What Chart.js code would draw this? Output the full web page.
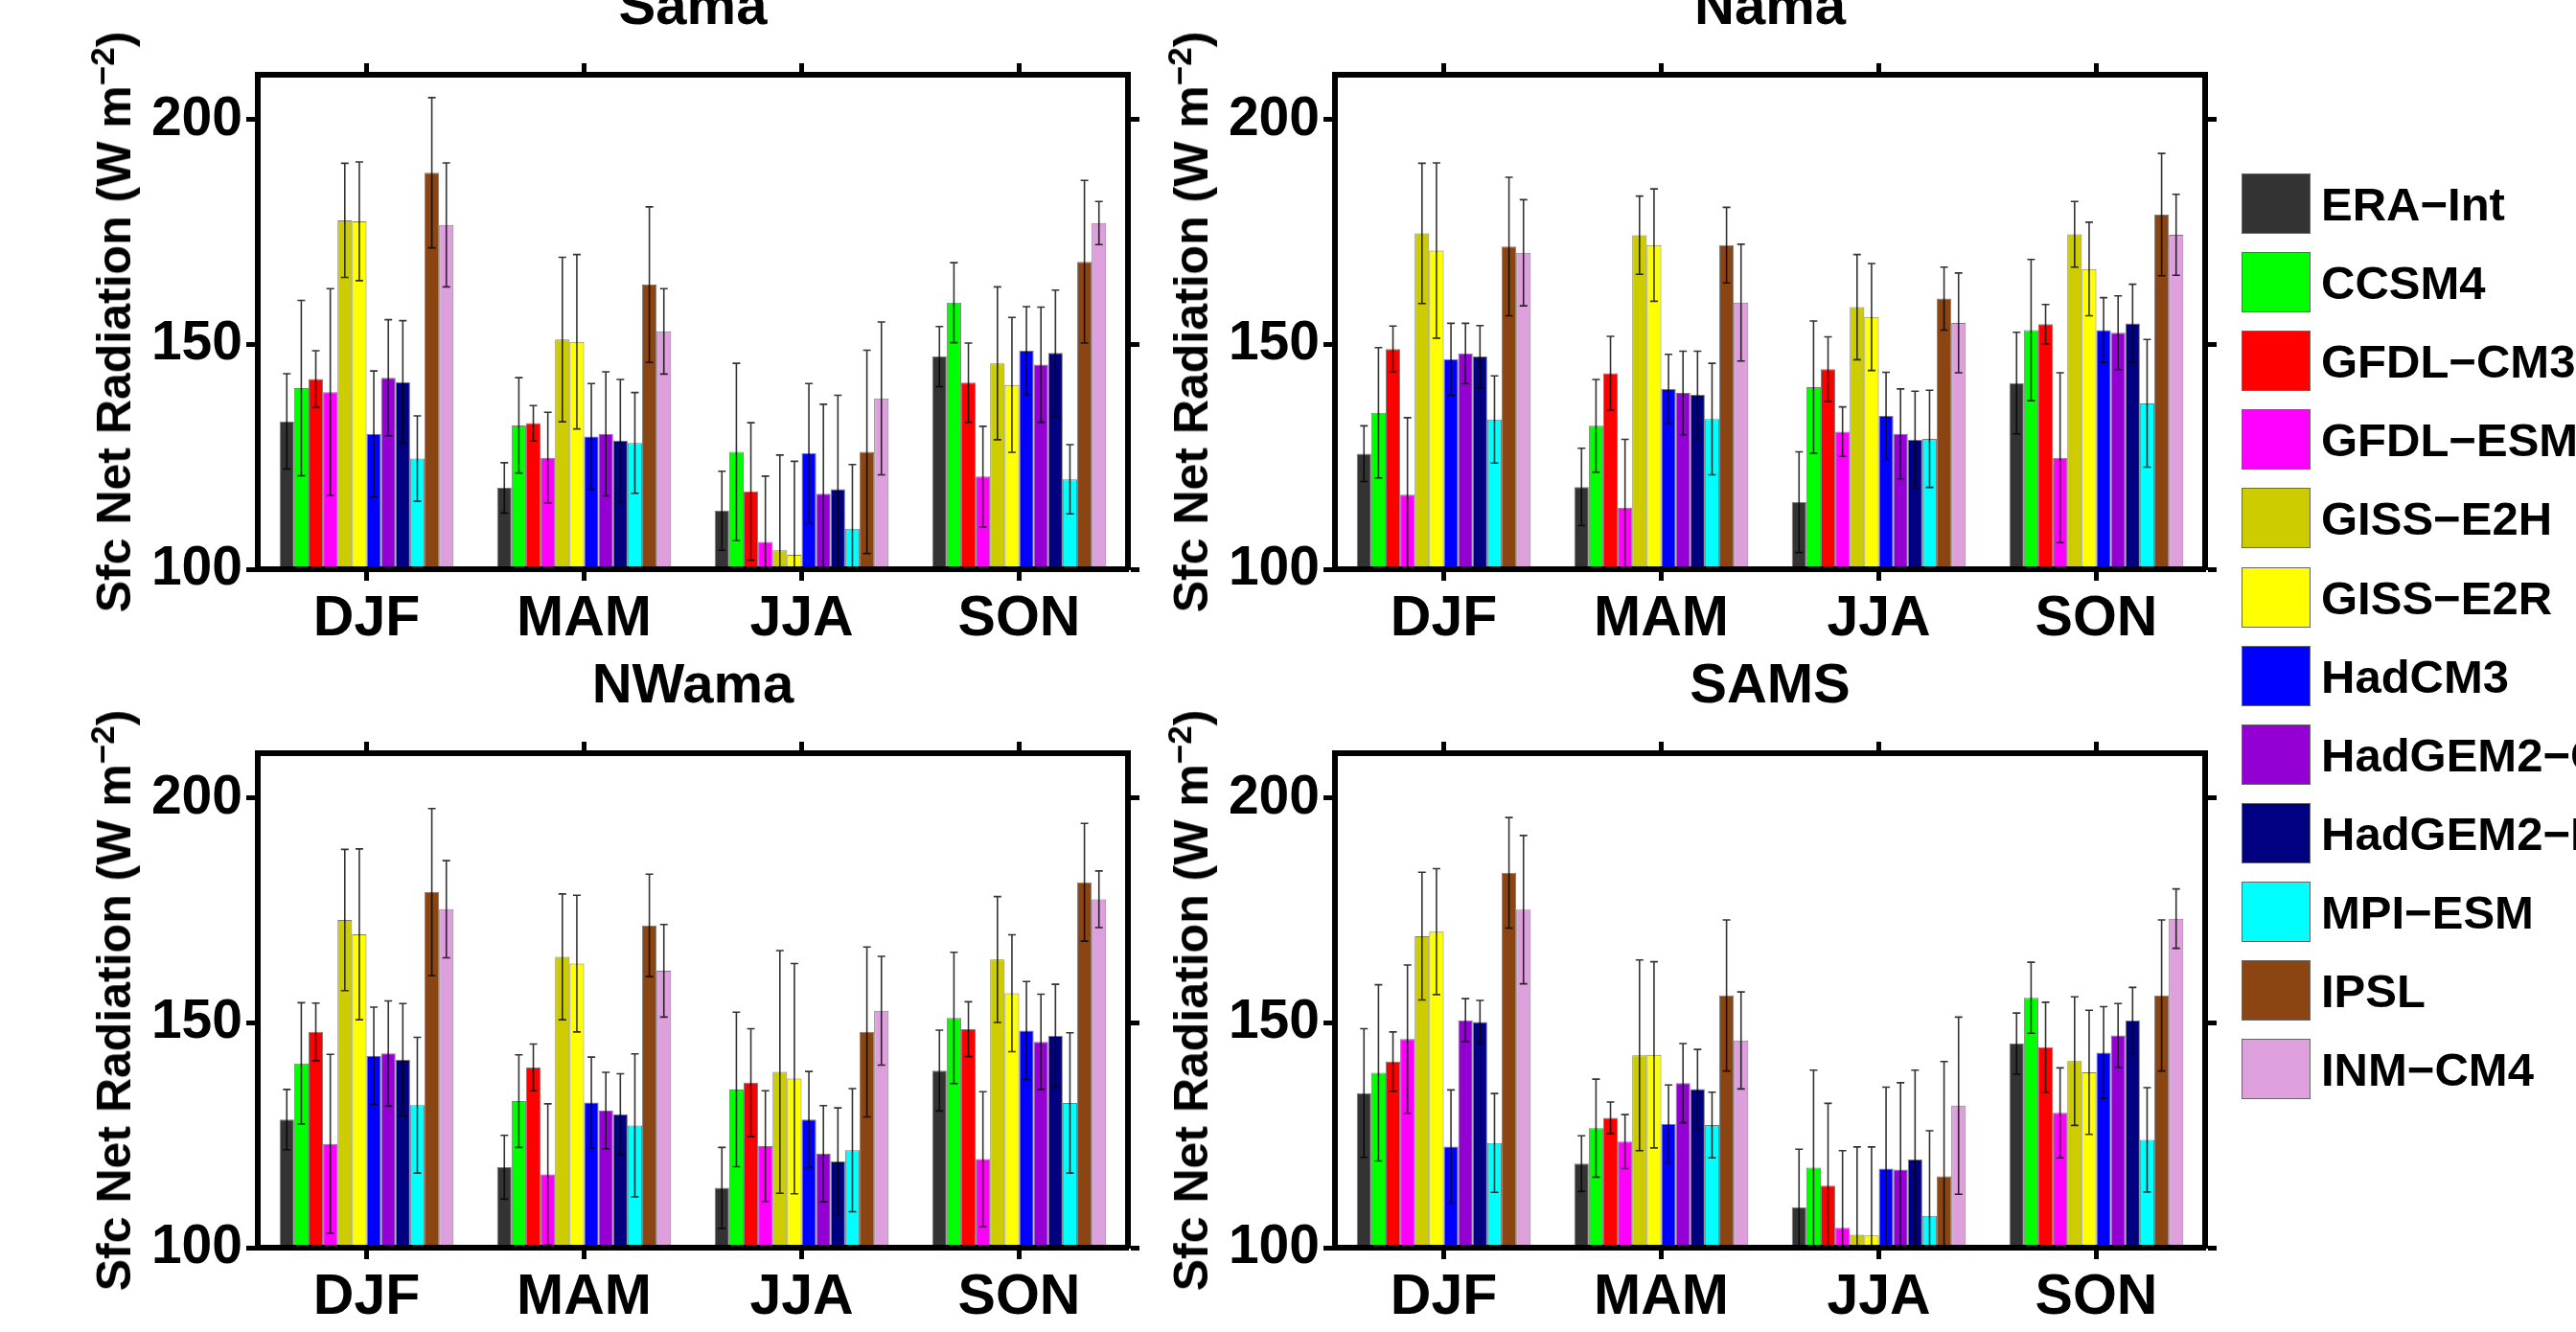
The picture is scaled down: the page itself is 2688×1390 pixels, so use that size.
<!DOCTYPE html>
<html lang="en">
<head>
<meta charset="utf-8">
<script src="https://cdn.jsdelivr.net/npm/chart.js@4.4.1/dist/chart.umd.min.js"></script>
<title>Sfc Net Radiation</title>
<style>
  html, body { margin: 0; padding: 0; background: #fff; }
  #page { position: relative; width: 2688px; height: 1390px; overflow: hidden;
          font-family: 'Liberation Sans', Arial, sans-serif; color: #000; }
  canvas { position: absolute; }
  .ylab { position: absolute; font-weight: bold; font-size: 50px; line-height: 1;
          white-space: nowrap; transform: translate(-50%, -50%) rotate(-90deg); }
  .ylab span { position: relative; top: -0.5em; font-size: 0.7em; }
  .patch { position: absolute; width: 72px; height: 63px; box-sizing: border-box;
           border: 1px solid #666; }
  .name { position: absolute; font-weight: bold; font-size: 49px; line-height: 1;
          white-space: nowrap; transform: translateY(-50%); }
</style>
</head>
<body>
<div id="page"></div>
<script>
// seasons and models
const seasons = ['DJF', 'MAM', 'JJA', 'SON'];
const models = ['ERA\u2212Int', 'CCSM4', 'GFDL\u2212CM3', 'GFDL\u2212ESM2M', 'GISS\u2212E2H', 'GISS\u2212E2R',
                'HadCM3', 'HadGEM2\u2212CC', 'HadGEM2\u2212ES', 'MPI\u2212ESM', 'IPSL', 'INM\u2212CM4'];
const colors = ['#333333', '#00ff00', '#ff0000', '#ff00ff', '#cccc00', '#ffff00',
                '#0000ff', '#9400d3', '#000080', '#00ffff', '#8b4513', '#dda0dd'];
const yTicks = [100, 150, 200];

// mean values, one row per model (DJF, MAM, JJA, SON)
const samaMean = [
  [132.9, 118.1, 113.0, 147.3], [140.3, 132.0, 126.1, 159.3], [142.3, 132.5, 117.3, 141.5],
  [139.4, 124.8, 106.1, 120.6], [177.6, 151.1, 104.2, 145.8], [177.4, 150.6, 103.2, 141.0],
  [130.1, 129.5, 125.8, 148.6], [142.6, 130.1, 116.8, 145.5], [141.6, 128.6, 117.8, 148.1],
  [124.6, 128.1, 109.0, 120.0], [188.2, 163.3, 126.1, 168.4], [176.6, 152.9, 138.0, 177.0]
];
const samaErr = [
  [10.6, 5.6, 8.8, 6.7], [19.5, 10.6, 19.7, 8.9], [6.3, 3.9, 15.3, 8.8],
  [23.0, 10.1, 14.6, 11.2], [12.7, 18.3, 21.2, 17.0], [13.2, 19.4, 20.8, 15.0],
  [14.0, 11.8, 15.5, 9.8], [12.9, 13.8, 19.9, 12.8], [13.7, 13.6, 20.9, 14.0],
  [9.5, 11.2, 14.3, 7.7], [16.7, 17.3, 22.6, 18.1], [13.8, 9.5, 17.0, 4.8]
];
const namaMean = [
  [125.7, 118.3, 114.9, 141.4], [134.8, 131.9, 140.5, 153.2], [149.0, 143.6, 144.5, 154.5],
  [116.6, 113.7, 130.6, 124.8], [174.7, 174.3, 158.3, 174.5], [170.9, 172.1, 156.1, 166.8],
  [146.7, 140.1, 134.1, 153.2], [148.0, 139.2, 130.1, 152.6], [147.3, 138.8, 128.8, 154.7],
  [133.3, 133.4, 129.0, 136.9], [171.8, 172.1, 160.2, 178.9], [170.4, 159.3, 154.8, 174.4]
];
const namaErr = [
  [6.2, 8.6, 11.2, 11.3], [14.5, 10.3, 14.7, 15.7], [5.1, 8.2, 7.2, 4.4],
  [17.1, 15.2, 5.5, 18.9], [15.6, 8.7, 11.7, 7.3], [19.5, 12.5, 11.9, 10.4],
  [8.0, 7.7, 9.7, 7.2], [6.7, 9.3, 10.0, 8.2], [6.9, 9.7, 10.8, 8.7],
  [9.7, 12.4, 10.8, 14.2], [15.4, 8.4, 7.0, 13.6], [11.8, 13.0, 11.1, 9.0]
];
const nwamaMean = [
  [128.5, 117.9, 113.3, 139.4], [141.0, 132.6, 135.2, 151.1], [148.0, 140.1, 136.7, 148.6],
  [123.1, 116.3, 122.6, 119.7], [172.9, 164.7, 139.1, 164.1], [169.7, 163.2, 137.6, 156.6],
  [142.7, 132.3, 128.5, 148.3], [143.2, 130.5, 120.9, 145.8], [141.8, 129.7, 119.2, 147.1],
  [131.7, 127.2, 121.7, 132.2], [179.1, 171.7, 148.0, 181.3], [175.3, 161.6, 152.7, 177.5]
];
const nwamaErr = [
  [6.7, 7.1, 9.0, 9.0], [13.5, 10.3, 17.2, 14.6], [6.4, 5.2, 12.0, 6.1],
  [19.9, 15.7, 12.3, 15.0], [15.7, 14.0, 27.0, 14.0], [19.0, 15.2, 25.6, 13.0],
  [10.8, 10.1, 10.7, 10.9], [11.7, 8.5, 10.7, 10.6], [12.5, 9.0, 11.9, 11.5],
  [15.1, 15.9, 13.7, 15.6], [18.6, 11.4, 18.9, 13.1], [10.8, 10.3, 12.1, 6.3]
];
const samsMean = [
  [134.4, 118.7, 109.0, 145.4], [138.9, 126.6, 117.8, 155.6], [141.4, 128.9, 113.8, 144.6],
  [146.4, 123.6, 104.4, 130.0], [169.3, 142.8, 102.9, 141.5], [170.3, 142.9, 102.7, 139.0],
  [122.5, 127.5, 117.6, 143.4], [150.6, 136.6, 117.4, 147.2], [150.2, 135.3, 119.6, 150.5],
  [123.3, 127.3, 107.1, 124.0], [183.4, 156.1, 115.9, 156.1], [175.2, 146.1, 131.6, 173.2]
];
const samsErr = [
  [14.3, 6.2, 12.9, 6.8], [19.6, 10.9, 21.7, 7.9], [6.6, 3.5, 18.3, 10.0],
  [16.5, 6.0, 17.2, 10.0], [14.2, 21.2, 19.5, 14.3], [14.0, 20.7, 19.7, 13.8],
  [12.6, 8.7, 18.1, 10.2], [4.8, 8.8, 19.3, 7.1], [4.8, 8.8, 19.9, 7.4],
  [11.0, 7.3, 18.9, 11.6], [12.3, 16.8, 25.5, 16.8], [16.5, 10.8, 19.7, 6.6]
];

const FONT = "'Liberation Sans', Arial, sans-serif";
Chart.defaults.font.family = FONT;
Chart.defaults.color = '#000';

// draws mean +/- err whiskers on each bar
const errorBars = {
  id: 'errorBars',
  afterDatasetsDraw(chart) {
    const { ctx, chartArea: a } = chart;
    const y = chart.scales.y;
    ctx.save();
    ctx.beginPath();
    ctx.rect(a.left, a.top, a.right - a.left, a.bottom - a.top);
    ctx.clip();
    ctx.strokeStyle = 'rgba(0,0,0,0.8)';
    ctx.lineWidth = 1.6;
    chart.data.datasets.forEach((ds, i) => {
      chart.getDatasetMeta(i).data.forEach((bar, j) => {
        const hi = y.getPixelForValue(ds.data[j] + ds.errs[j]);
        const lo = y.getPixelForValue(ds.data[j] - ds.errs[j]);
        ctx.beginPath();
        ctx.moveTo(bar.x, hi); ctx.lineTo(bar.x, lo);
        ctx.moveTo(bar.x - 4, hi); ctx.lineTo(bar.x + 4, hi);
        ctx.moveTo(bar.x - 4, lo); ctx.lineTo(bar.x + 4, lo);
        ctx.stroke();
      });
    });
    ctx.restore();
  }
};

const page = document.getElementById('page');
const PAD_L = 260, PAD_R = 60, PAD_T = 140, PAD_B = 100;

function axisGrid() {
  return { display: true, drawOnChartArea: false, drawTicks: true, offset: false,
           tickLength: 12, tickWidth: 5, tickColor: '#000' };
}
function axisBorder() {
  return { display: true, width: 6, color: '#000', z: 1 };
}

function panel(title, mean, err, box) {
  const w = box.x1 - box.x0, h = box.y1 - box.y0;
  const cv = document.createElement('canvas');
  cv.width = w + PAD_L + PAD_R;
  cv.height = h + PAD_T + PAD_B;
  cv.style.left = (box.x0 - PAD_L) + 'px';
  cv.style.top = (box.y0 - PAD_T) + 'px';
  page.appendChild(cv);

  const lab = document.createElement('div');
  lab.className = 'ylab';
  lab.innerHTML = 'Sfc Net Radiation (W m<span>\u22122</span>)';
  lab.style.left = (box.x0 - 150) + 'px';
  lab.style.top = ((box.y0 + box.y1) / 2) + 'px';
  page.appendChild(lab);

  new Chart(cv, {
    type: 'bar',
    data: {
      labels: seasons,
      datasets: models.map((m, i) => ({
        label: m,
        data: mean[i],
        errs: err[i],
        backgroundColor: colors[i],
        borderColor: 'rgba(70,70,70,0.7)',
        borderWidth: 1,
        base: 100,
        categoryPercentage: 0.8,
        barPercentage: 1.0
      }))
    },
    options: {
      responsive: false,
      animation: false,
      devicePixelRatio: 1,
      layout: { padding: 0 },
      plugins: {
        legend: { display: false },
        tooltip: { enabled: false },
        title: {
          display: true, text: title, color: '#000', fullSize: false,
          font: { size: 58, weight: 'bold', lineHeight: 1.2 },
          padding: { top: 36, bottom: 0 }
        }
      },
      scales: {
        x: {
          type: 'category', position: 'bottom', offset: true,
          grid: axisGrid(), border: axisBorder(),
          ticks: { font: { size: 59, weight: 'bold', lineHeight: 1.2 }, padding: 5, color: '#000' },
          afterFit: s => { s.height = PAD_B; }
        },
        x2: {
          type: 'category', position: 'top', offset: true,
          grid: axisGrid(), border: axisBorder(),
          ticks: { display: false },
          afterFit: s => { s.height = PAD_T - 105.6; }
        },
        y: {
          type: 'linear', position: 'left', min: 100, max: 210,
          grid: axisGrid(), border: axisBorder(),
          afterBuildTicks: s => { s.ticks = yTicks.map(v => ({ value: v })); },
          ticks: { font: { size: 57, weight: 'bold' }, padding: 4, color: '#000' },
          afterFit: s => { s.width = PAD_L; }
        },
        y2: {
          type: 'linear', position: 'right', min: 100, max: 210,
          grid: axisGrid(), border: axisBorder(),
          afterBuildTicks: s => { s.ticks = yTicks.map(v => ({ value: v })); },
          ticks: { display: false },
          afterFit: s => { s.width = PAD_R; }
        }
      }
    },
    plugins: [errorBars]
  });
}

panel('Sama',  samaMean,  samaErr,  { x0: 269,  x1: 1177, y0: 78,  y1: 594 });
panel('Nama',  namaMean,  namaErr,  { x0: 1393, x1: 2301, y0: 78,  y1: 594 });
panel('NWama', nwamaMean, nwamaErr, { x0: 269,  x1: 1177, y0: 786, y1: 1302 });
panel('SAMS',  samsMean,  samsErr,  { x0: 1393, x1: 2301, y0: 786, y1: 1302 });

// legend
models.forEach((m, i) => {
  const top = 181 + i * 82.1;
  const p = document.createElement('div');
  p.className = 'patch';
  p.style.left = '2339px';
  p.style.top = top + 'px';
  p.style.background = colors[i];
  page.appendChild(p);
  const t = document.createElement('div');
  t.className = 'name';
  t.textContent = m;
  t.style.left = '2422px';
  t.style.top = (top + 32) + 'px';
  page.appendChild(t);
});
</script>
</body>
</html>
